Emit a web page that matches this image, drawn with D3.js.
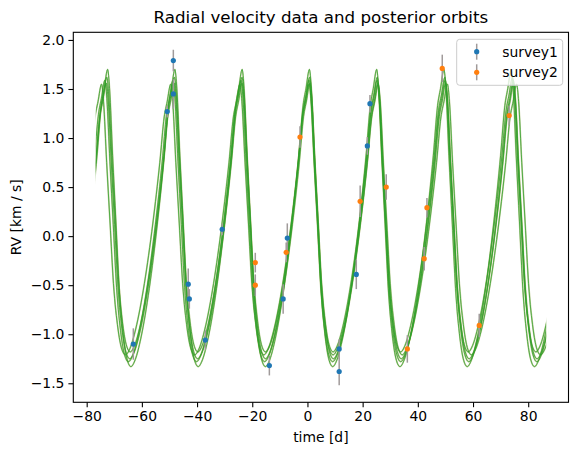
<!DOCTYPE html>
<html>
<head>
<meta charset="utf-8">
<script src="https://cdn.jsdelivr.net/npm/d3@7"></script>
<style>
  body { margin: 0; background: #fff; }
  text { font-family: "DejaVu Sans", sans-serif; fill: #000; }
</style>
</head>
<body>
<div id="chart"></div>
<script>
// survey 1 measurements
const s1Time = [-63.1, -50.8, -48.6, -48.6, -43.2, -42.8, -37.0, -30.9, -13.8, -8.8, -7.3, 11.5, 11.5, 17.7, 21.7, 22.65];
const s1RV = [-1.10, 1.27, 1.79, 1.45, -0.49, -0.64, -1.06, 0.07, -1.32, -0.64, -0.02, -1.15, -1.38, -0.39, 0.92, 1.35];
const s1Err = [0.16, 0.06, 0.11, 0.15, 0.16, 0.10, 0.10, 0.06, 0.10, 0.15, 0.15, 0.10, 0.14, 0.15, 0.09, 0.09];

// survey 2 measurements
const s2Time = [-18.9, -18.9, -7.7, -2.7, 19.1, 28.55, 36.2, 42.3, 43.3, 48.85, 62.25, 73.1];
const s2RV = [-0.27, -0.50, -0.165, 1.01, 0.355, 0.50, -1.15, -0.23, 0.29, 1.71, -0.91, 1.23];
const s2Err = [0.10, 0.11, 0.10, 0.11, 0.16, 0.13, 0.14, 0.12, 0.10, 0.14, 0.12, 0.10];

// one orbit cycle (days after a maximum, RV)
const cycleDay = [0, 0.7, 1.8, 3.0, 4.2, 5.8, 7.0, 8.45, 10.0, 12.05, 15.1, 18.1, 20.55, 22.1, 23.15, 24.4];
const cycleRV = [1.704, 1.507, 0.826, 0.147, -0.532, -1.04, -1.25, -1.33, -1.26, -1.04, -0.532, 0.147, 0.826, 1.336, 1.507, 1.704];

// posterior orbit samples
const orbitPeriod = [24.375, 24.667, 25.07, 24.6, 24.5];
const orbitPeak = [0.72, 0.6, 0.6, 0.9, 0.8];
const orbitMax = [1.70, 1.59, 1.55, 1.56, 1.62];
const orbitMin = [-1.33, -1.28, -1.21, -1.25, -1.18];
const orbitSpan = [-76.7, 86.5];

const xTicks = [-80, -60, -40, -20, 0, 20, 40, 60, 80];
const yTicks = [-1.5, -1.0, -0.5, 0.0, 0.5, 1.0, 1.5, 2.0];

const W = 578, H = 455;
const plotL = 73.3, plotR = 568.5, plotT = 32.3, plotB = 402.3;

const svg = d3.select('#chart').append('svg')
    .attr('width', W)
    .attr('height', H);

const x = d3.scaleLinear().domain([-84.85, 94.6]).range([plotL, plotR]);
const y = d3.scaleLinear().domain([-1.694, 2.078]).range([plotB, plotT]);
const minus = s => s.replace('-', '\u2212');

// clip orbits to the sampled time span
svg.append('clipPath').attr('id', 'span')
    .append('rect')
    .attr('x', x(orbitSpan[0]))
    .attr('y', plotT)
    .attr('width', x(orbitSpan[1]) - x(orbitSpan[0]))
    .attr('height', plotB - plotT);

// build each posterior orbit from the cycle shape
const lo = d3.min(cycleRV), hi = d3.max(cycleRV), base = cycleDay[cycleDay.length - 1];
const orbits = orbitPeriod.map((P, i) => {
    let pts = [];
    for (let k = -4; k <= 4; k++) {
        cycleDay.forEach((d, j) => {
            if (j === 0 && k > -4) return;
            const t = orbitPeak[i] + k * P + d * P / base;
            const v = orbitMin[i] + (orbitMax[i] - orbitMin[i]) * (cycleRV[j] - lo) / (hi - lo);
            pts.push([t, v]);
        });
    }
    return pts;
});

const line = d3.line()
    .x(d => x(d[0]))
    .y(d => y(d[1]))
    .curve(d3.curveMonotoneX);

const g = svg.append('g').attr('clip-path', 'url(#span)');
orbits.forEach(pts => {
    g.append('path')
        .attr('d', line(pts))
        .attr('fill', 'none')
        .attr('stroke', '#9aae58')
        .attr('stroke-width', 1.7)
        .attr('opacity', 0.6);
});
orbits.forEach(pts => {
    g.append('path')
        .attr('d', line(pts))
        .attr('fill', 'none')
        .attr('stroke', '#2ca02c')
        .attr('stroke-width', 0.9)
        .attr('opacity', 0.85);
});

// error bars + markers
function drawSurvey(times, rvs, errs, color) {
    const pts = times.map((t, i) => ({ t: t, v: rvs[i], e: errs[i] }));
    svg.append('g').selectAll('line')
        .data(pts).join('line')
        .attr('x1', d => x(d.t)).attr('x2', d => x(d.t))
        .attr('y1', d => y(d.v - d.e)).attr('y2', d => y(d.v + d.e))
        .attr('stroke', '#a09a9a')
        .attr('stroke-width', 1.5);
    svg.append('g').selectAll('circle')
        .data(pts).join('circle')
        .attr('cx', d => x(d.t))
        .attr('cy', d => y(d.v))
        .attr('r', 2.6)
        .attr('fill', color);
}
drawSurvey(s1Time, s1RV, s1Err, '#1f77b4');
drawSurvey(s2Time, s2RV, s2Err, '#ff7f0e');

// axes
const xAxis = svg.append('g')
    .attr('transform', `translate(0,${plotB})`)
    .call(d3.axisBottom(x).tickValues(xTicks).tickSize(4.9).tickPadding(4).tickFormat(d => minus(d3.format('d')(d))));
const yAxis = svg.append('g')
    .attr('transform', `translate(${plotL},0)`)
    .call(d3.axisLeft(y).tickValues(yTicks).tickSize(4.9).tickPadding(4).tickFormat(d => minus(d3.format('.1f')(d))));
[xAxis, yAxis].forEach(a => {
    a.select('.domain').remove();
    a.selectAll('line').attr('stroke', '#000').attr('stroke-width', 1.1);
    a.selectAll('text').style('font-size', '13.9px').style('font-family', '"DejaVu Sans", sans-serif');
});

// frame
svg.append('rect')
    .attr('x', plotL).attr('y', plotT)
    .attr('width', plotR - plotL).attr('height', plotB - plotT)
    .attr('fill', 'none')
    .attr('stroke', '#000')
    .attr('stroke-width', 1.1);

// labels
svg.append('text')
    .attr('x', (plotL + plotR) / 2).attr('y', 23)
    .attr('text-anchor', 'middle')
    .style('font-size', '16.7px')
    .text('Radial velocity data and posterior orbits');
svg.append('text')
    .attr('x', (plotL + plotR) / 2).attr('y', 442)
    .attr('text-anchor', 'middle')
    .style('font-size', '13.9px')
    .text('time [d]');
svg.append('text')
    .attr('transform', `translate(21,${(plotT + plotB) / 2}) rotate(-90)`)
    .attr('text-anchor', 'middle')
    .style('font-size', '13.9px')
    .text('RV [km / s]');

// legend
const legend = svg.append('g');
legend.append('rect')
    .attr('x', 456.7).attr('y', 39.3)
    .attr('width', 106).attr('height', 46)
    .attr('rx', 3)
    .attr('fill', '#fff').attr('fill-opacity', 0.8)
    .attr('stroke', '#cccccc');
[['survey1', '#1f77b4', 51.7], ['survey2', '#ff7f0e', 72.3]].forEach(e => {
    legend.append('line')
        .attr('x1', 476.7).attr('x2', 476.7)
        .attr('y1', e[2] - 8).attr('y2', e[2] + 8)
        .attr('stroke', '#a09a9a').attr('stroke-width', 1.5);
    legend.append('circle')
        .attr('cx', 476.7).attr('cy', e[2]).attr('r', 2.6)
        .attr('fill', e[1]);
    legend.append('text')
        .attr('x', 502.3).attr('y', e[2] + 5)
        .style('font-size', '13.9px')
        .text(e[0]);
});
</script>
</body>
</html>
